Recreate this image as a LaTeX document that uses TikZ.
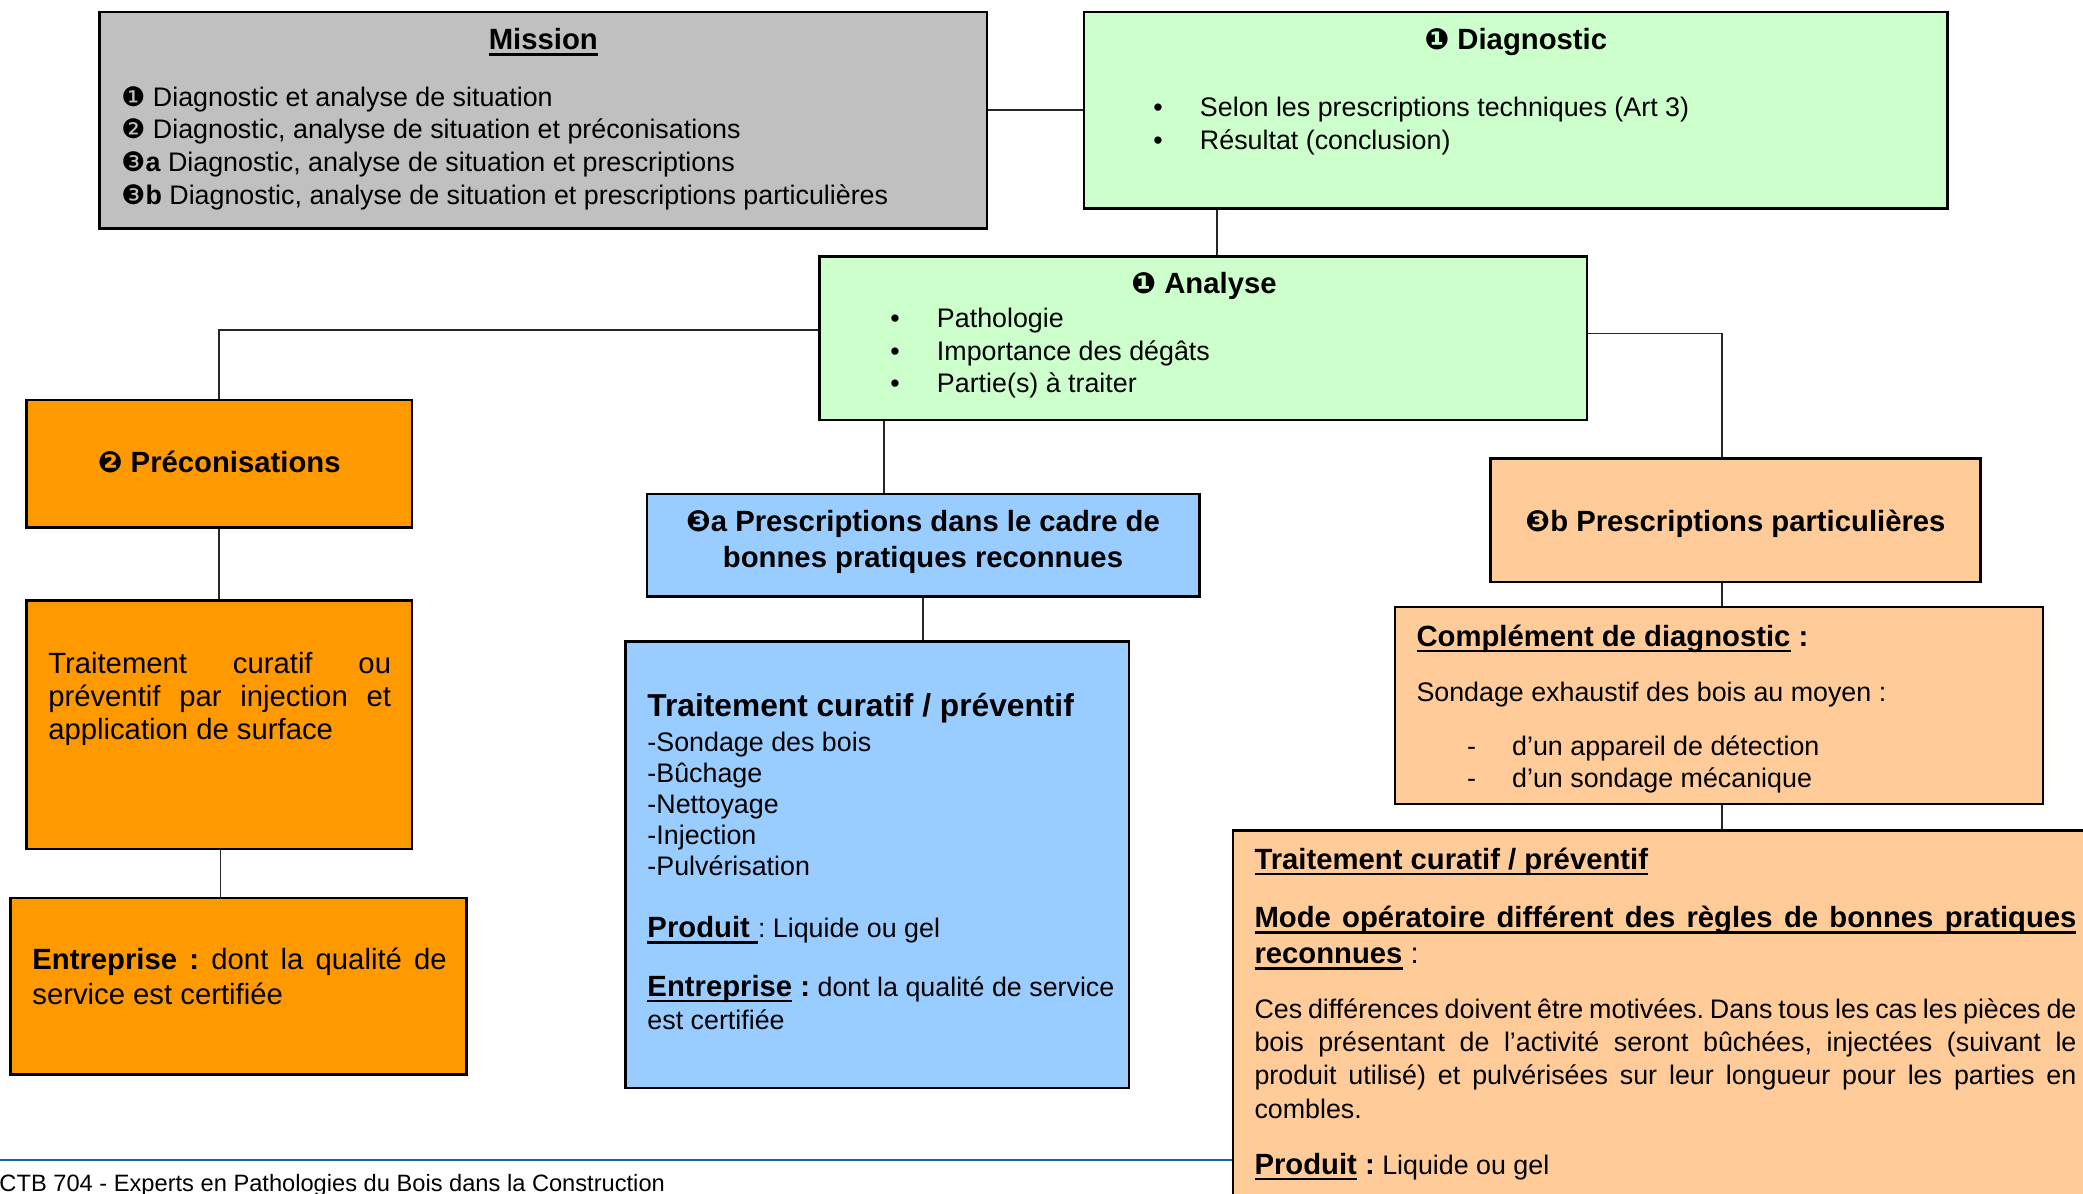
\documentclass[tikz,border=0pt]{standalone}
\usepackage{fontspec}
\setmainfont{Liberation Sans}
\newfontfamily\dingfont{DejaVu Sans}
\usetikzlibrary{fit}
\frenchspacing

% one drawing unit
\newdimen\pxu \pxu=0.41pt
% thick underline
\newcommand\undl[1]{\leavevmode\begingroup\setbox0=\hbox{#1}\rlap{\vrule width\wd0 height -1.5pt depth 2.6pt}\box0\endgroup}
% negative circled numbers
\newcommand\nb[1]{{\dingfont #1}}

\definecolor{grisbox}{HTML}{C0C0C0}
\definecolor{vertbox}{HTML}{CCFFCC}
\definecolor{orangebox}{HTML}{FF9900}
\definecolor{bleubox}{HTML}{99CCFF}
\definecolor{peche}{HTML}{FFCC99}
\definecolor{filet}{HTML}{1F5F9F}

\tikzset{
  box/.style={draw=black, line width=1pt, inner sep=0pt},
  link/.style={draw=black!85, line width=0.8pt},
  txt/.style={inner sep=0pt, anchor=base west},
  ctr/.style={inner sep=0pt, anchor=base},
}

\begin{document}
\begin{tikzpicture}[x=0.41pt, y=-0.41pt]
\useasboundingbox (0,0) rectangle (2083,1193);

% boxes
\node[box, fill=grisbox,   fit={(99.6,12) (987,228.5)}]      (mission) {};
\node[box, fill=vertbox,   fit={(1084,12) (1947.5,208.6)}]   (diag) {};
\node[box, fill=vertbox,   fit={(819.6,256.4) (1587,419.8)}] (analyse) {};
\node[box, fill=orangebox, fit={(26.6,400) (411.8,527.4)}]   (preco) {};
\node[box, fill=orangebox, fit={(26.6,600.4) (411.8,848.9)}] (trait) {};
\node[box, fill=orangebox, fit={(10.6,898) (466.3,1074.7)}]  (entr) {};
\node[box, fill=bleubox,   fit={(647,494) (1199.5,596.5)}]   (presa) {};
\node[box, fill=bleubox,   fit={(625.7,641.6) (1129,1088)}]  (traita) {};
\node[box, fill=peche,     fit={(1490.5,458.3) (1980.6,581.8)}] (presb) {};
\node[box, fill=peche,     fit={(1394.8,607) (2043,804)}]    (compl) {};
\node[box, fill=peche,     fit={(1233,830.5) (2110,1230)}]   (traitb) {};

% connectors
\coordinate (xd) at (1217,0);
\coordinate (yl) at (0,330);
\coordinate (yr) at (0,333.5);
\coordinate (xr) at (1721.7,0);
\coordinate (xa) at (884,0);
\coordinate (xl) at (220.5,0);
\draw[link] (diag.west) -- (diag.west -| mission.east);
\draw[link] (xd |- diag.south) -- (xd |- analyse.north);
\draw[link] (yl -| analyse.west) -| (preco.north);
\draw[link] (yr -| analyse.east) -| (xr |- presb.north);
\draw[link] (xa |- analyse.south) -- (xa |- presa.north);
\draw[link] (presa.south) -- (presa.south |- traita.north);
\draw[link] (preco.south) -- (trait.north);
\draw[link] (xl |- trait.south) -- (xl |- entr.north);
\draw[link] (xr |- presb.south) -- (xr |- compl.north);
\draw[link] (xr |- compl.south) -- (xr |- traitb.north);

% footer rule
\coordinate (f0) at (0,1160);
\draw[filet, line width=1pt] (f0) -- (f0 -| traitb.west);

\begin{scope}[shift={(0,3)}]
% Mission
\node[ctr] (t-mission) at (543.3,46.5) {\fontsize{12}{14}\selectfont\bfseries\undl{Mission}};
\node[txt] (l-mission) at (121,103) {\parbox[t]{850\pxu}{\fontsize{11}{13.45}\selectfont
\nb{❶} Diagnostic et analyse de situation\\
\nb{❷} Diagnostic, analyse de situation et préconisations\\
\nb{❸}\textbf{a} Diagnostic, analyse de situation et prescriptions\\
\nb{❸}\textbf{b} Diagnostic, analyse de situation et prescriptions particulières}};

% Diagnostic
\node[ctr] (t-diag) at (1515.8,46.5) {\fontsize{12}{14}\selectfont\bfseries\nb{❶} Diagnostic};
\node[txt] (l-diag) at (1153,113.6) {\parbox[t]{750\pxu}{\fontsize{11}{13.6}\selectfont
\makebox[46.5\pxu][l]{•}Selon les prescriptions techniques (Art 3)\\
\makebox[46.5\pxu][l]{•}Résultat (conclusion)}};

% Analyse
\node[ctr] (t-analyse) at (1204,290.3) {\fontsize{12}{14}\selectfont\bfseries\nb{❶} Analyse};
\node[txt] (l-analyse) at (890,324.8) {\parbox[t]{600\pxu}{\fontsize{11}{13.35}\selectfont
\makebox[46.5\pxu][l]{•}Pathologie\\
\makebox[46.5\pxu][l]{•}Importance des dégâts\\
\makebox[46.5\pxu][l]{•}Partie(s) à traiter}};

% Preconisations branch
\node[ctr] (t-preco) at (219.2,469.6) {\fontsize{12}{14}\selectfont\bfseries\nb{❷} Préconisations};
\node[txt] (l-trait) at (47.8,670.2) {\parbox[t]{342.8\pxu}{\fontsize{12}{13.6}\selectfont
\makebox[\linewidth][s]{Traitement curatif ou}\\
\makebox[\linewidth][s]{préventif par injection et}\\
application de surface}};
\node[txt] (l-entr) at (31.9,966.4) {\parbox[t]{414.4\pxu}{\fontsize{12}{14.2}\selectfont
\makebox[\linewidth][s]{\textbf{Entreprise :} dont la qualité de}\\
service est certifiée}};

% Prescriptions 3a branch
\node[ctr] (t-presa) at (923,528) {\parbox[t]{540\pxu}{\centering\fontsize{12}{14.8}\selectfont\bfseries
\nb{❸}a Prescriptions dans le cadre de\\ bonnes pratiques reconnues}};
\node[txt] (t-traita) at (647,713) {\fontsize{13}{15}\selectfont\bfseries Traitement curatif / préventif};
\node[txt] (l-traita) at (647,748.6) {\parbox[t]{470\pxu}{\fontsize{11}{12.67}\selectfont
-Sondage des bois\\ -Bûchage\\ -Nettoyage\\ -Injection\\ -Pulvérisation}};
\node[txt] (p-traita) at (647,934.5) {\fontsize{11}{13}\selectfont{\fontsize{12}{13}\selectfont\bfseries\undl{Produit\ }}: Liquide ou gel};
\node[txt] (e-traita) at (647,993) {\parbox[t]{470\pxu}{\fontsize{11}{13.6}\selectfont
{\fontsize{12}{13}\selectfont\bfseries\undl{Entreprise} :} dont la qualité de service\\ est certifiée}};

% Prescriptions 3b branch
\node[ctr] (t-presb) at (1735.5,528) {\fontsize{12}{14}\selectfont\bfseries\nb{❸}b Prescriptions particulières};
\node[txt] (t-compl) at (1416,643) {\fontsize{12}{14}\selectfont\bfseries\undl{Complément de diagnostic} :};
\node[txt] (s-compl) at (1416,698) {\fontsize{11}{13}\selectfont Sondage exhaustif des bois au moyen :};
\node[txt] (l-compl) at (1466.6,752.5) {\parbox[t]{520\pxu}{\fontsize{11}{13.08}\selectfont
\makebox[45.1\pxu][l]{-}d’un appareil de détection\\
\makebox[45.1\pxu][l]{-}d’un sondage mécanique}};

\node[txt] (t-traitb) at (1254,866) {\fontsize{12}{14}\selectfont\bfseries\undl{Traitement curatif / préventif}};
\node[txt] (m-traitb) at (1254,924.6) {\parbox[t]{822\pxu}{\fontsize{12}{14.7}\selectfont\bfseries
\undl{\makebox[\linewidth][s]{Mode opératoire différent des règles de bonnes pratiques}}\\
\undl{reconnues}\mdseries\ :}};
\node[txt] (c-traitb) at (1254,1015.6) {\parbox[t]{822\pxu}{\fontsize{11}{13.6}\selectfont
\makebox[\linewidth][s]{Ces différences doivent être motivées. Dans tous les cas les pièces de}\\
\makebox[\linewidth][s]{bois présentant de l’activité seront bûchées, injectées (suivant le}\\
\makebox[\linewidth][s]{produit utilisé) et pulvérisées sur leur longueur pour les parties en}\\
combles.}};
\node[txt] (p-traitb) at (1254,1171) {\fontsize{11}{13}\selectfont{\fontsize{12}{14}\selectfont\bfseries\undl{Produit} :} Liquide ou gel};

% footer
\node[txt] (footer) at (-1,1188) {\fontsize{9.7}{11}\selectfont CTB 704 - Experts en Pathologies du Bois dans la Construction};
\end{scope}
\end{tikzpicture}
\end{document}
